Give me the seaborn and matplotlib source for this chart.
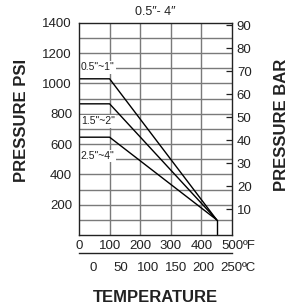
import matplotlib
matplotlib.use("Agg")
import matplotlib.pyplot as plt
import seaborn as sns
import pandas as pd

sns.set_theme(style="white")
plt.rcParams['font.family'] = ['Liberation Sans', 'DejaVu Sans']

# ---- data ----
sizes = ['0.5"~1"', '1.5"~2"', '2.5"~4"']
temps_f = [0, 100, 450]
psi_05_1 = [1030, 1030, 100]
psi_15_2 = [865, 865, 100]
psi_25_4 = [645, 645, 100]
end_temp = [450, 450]
end_psi = [100, 0]
label_psi = [1105, 750, 520]
label_temp = 6

f_ticks = [0, 100, 200, 300, 400, 500]
f_labels = ["0", "100", "200", "300", "400", "500"]
f_unit = "ºF"
c_ticks = [0, 50, 100, 150, 200, 250]
c_labels = ["0", "50", "100", "150", "200", "250"]
c_unit = "ºC"
psi_ticks = [200, 400, 600, 800, 1000, 1200, 1400]
bar_ticks = [10, 20, 30, 40, 50, 60, 70, 80, 90]

rows = []
for name, vals in zip(sizes, [psi_05_1, psi_15_2, psi_25_4]):
    for t, p in zip(temps_f, vals):
        rows.append({"size": name, "temp": t, "psi": p})
df = pd.DataFrame(rows)
df_end = pd.DataFrame({"temp": end_temp, "psi": end_psi})

W, H = 287, 306
fig = plt.figure(figsize=(W / 100, H / 100), dpi=100)
left, right, top, bottom = 79, 232, 22.7, 235
ax = fig.add_axes([left / W, 1 - bottom / H, (right - left) / W, (bottom - top) / H])

grid_c = "#7a7a7a"
for x in [100, 200, 300, 400]:
    ax.axvline(x, color=grid_c, lw=1.0, zorder=1)
for y in range(100, 1400, 100):
    ax.axhline(y, color=grid_c, lw=1.0, zorder=1)

sns.lineplot(data=df, x="temp", y="psi", units="size", estimator=None, sort=False,
             color="black", lw=1.0, ax=ax, zorder=3, legend=False)
sns.lineplot(data=df_end, x="temp", y="psi", estimator=None, sort=False,
             color="black", lw=1.0, ax=ax, zorder=3, legend=False)

for name, yp in zip(sizes, label_psi):
    ax.text(label_temp, yp, name, fontsize=7.5, va="center", ha="left", color="#222222",
            zorder=4, bbox=dict(facecolor="white", edgecolor="none", pad=1.0))

ax.set_xlim(0, 500)
ax.set_ylim(0, 1400)
ax.set_xticks(f_ticks)
ax.set_xticklabels(f_labels)
ax.set_yticks(psi_ticks)
ax.set_yticklabels([str(v) for v in psi_ticks])
ax.tick_params(axis="both", length=0, labelsize=9.5, colors="#222222")
ax.tick_params(axis="x", pad=3.5)
ax.tick_params(axis="y", pad=5)
ax.set_xlabel("")
ax.set_ylabel("")
for s in ax.spines.values():
    s.set_color("#222222")
    s.set_linewidth(1.0)
    s.set_visible(True)
    s.set_zorder(5)

ax2 = ax.twinx()
ax2.set_ylim(-1.2, 91.1)
ax2.set_yticks(bar_ticks)
ax2.set_yticklabels([str(v) for v in bar_ticks])
ax2.tick_params(axis="y", direction="in", length=4.5, width=0.9, color="#222222",
                labelsize=9.5, labelcolor="#222222", pad=3.5)
for s in ax2.spines.values():
    s.set_visible(False)

# Celsius axis
c_y = 253
axc = fig.add_axes([left / W, 1 - c_y / H, (right - left) / W, 0.0001])
axc.set_xlim(-26, 252)
axc.set_xticks(c_ticks)
axc.set_xticklabels(c_labels)
axc.set_yticks([])
axc.patch.set_visible(False)
for k, s in axc.spines.items():
    s.set_visible(k == "bottom")
axc.spines["bottom"].set_color("#222222")
axc.spines["bottom"].set_linewidth(1.0)
axc.tick_params(axis="x", direction="out", length=3.5, width=0.9, color="#222222",
                labelsize=9.5, labelcolor="#222222", pad=3)

fig.text(155.5 / W, 1 - 12 / H, "0.5\u2033- 4\u2033", ha="center", va="center",
         fontsize=9, color="#222222")
fig.text(22 / W, 1 - 120 / H, "PRESSURE PSI", rotation=90, ha="center", va="center",
         fontsize=12, fontweight="bold", color="#222222")
fig.text(281 / W, 1 - 125 / H, "PRESSURE BAR", rotation=90, ha="center", va="center",
         fontsize=12, fontweight="bold", color="#222222")
fig.text(155 / W, 1 - 297 / H, "TEMPERATURE", ha="center", va="center",
         fontsize=12, fontweight="bold", color="#222222")

# unit suffixes attached right after the last tick labels
fig.canvas.draw()
renderer = fig.canvas.get_renderer()
for axis_obj, unit in [(ax, f_unit), (axc, c_unit)]:
    lab = axis_obj.get_xticklabels()[-1]
    bb = lab.get_window_extent(renderer)
    cy = (bb.y0 + bb.y1) / 2
    fig.text(bb.x1 / W / 1.0 * (W / fig.bbox.width), cy / fig.bbox.height, unit,
             ha="left", va="center", fontsize=9.5, color="#222222")

fig.savefig("out.png", dpi=100)
